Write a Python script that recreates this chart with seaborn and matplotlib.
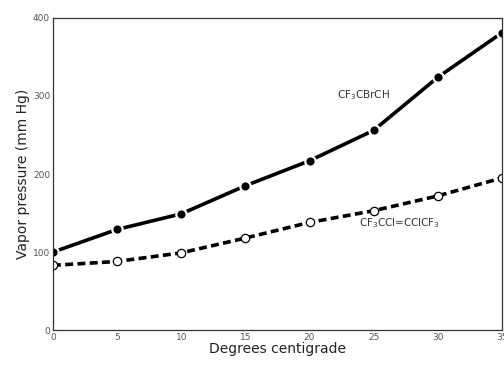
import pandas as pd
import seaborn as sns
import matplotlib.pyplot as plt

# Vapor pressure readings
temps = [0, 5, 10, 15, 20, 25, 30, 35]
cbr_pressure = [100, 129, 149, 185, 217, 256, 324, 381]
ccl_pressure = [83, 88, 99, 118, 138, 153, 172, 195]

x_ticks = [0, 5, 10, 15, 20, 25, 30, 35]
y_ticks = [0, 100, 200, 300, 400]

df_cbr = pd.DataFrame({'Degrees centigrade': temps, 'Vapor pressure (mm Hg)': cbr_pressure})
df_ccl = pd.DataFrame({'Degrees centigrade': temps, 'Vapor pressure (mm Hg)': ccl_pressure})

sns.set_style('white')
plt.rcParams['font.family'] = ['DejaVu Sans']

fig, ax = plt.subplots(figsize=(5.04, 3.66), dpi=100)
fig.subplots_adjust(left=0.105, right=0.996, top=0.951, bottom=0.098)

sns.lineplot(data=df_cbr, x='Degrees centigrade', y='Vapor pressure (mm Hg)', ax=ax,
             color='black', linewidth=2.6, marker='o', markersize=7.5,
             markerfacecolor='black', markeredgecolor='white', markeredgewidth=1.6)
sns.lineplot(data=df_ccl, x='Degrees centigrade', y='Vapor pressure (mm Hg)', ax=ax,
             color='black', linewidth=2.6, linestyle=(0, (2.2, 1.2)), marker='o', markersize=6,
             markerfacecolor='white', markeredgecolor='black', markeredgewidth=0.9)

ax.text(24.2, 301, 'CF$_3$CBrCH', fontsize=7.5, color='#333333', ha='center', va='center')
ax.text(27.0, 137, 'CF$_3$CCl=CClCF$_3$', fontsize=7.5, color='#333333', ha='center', va='center')

ax.set_xlim(0, 35)
ax.set_ylim(0, 400)
ax.set_xticks(x_ticks)
ax.set_yticks(y_ticks)
ax.tick_params(axis='both', labelsize=6.5, colors='#555555', length=3, direction='in', pad=2)
ax.set_xlabel('Degrees centigrade', fontsize=10, color='#222222', labelpad=0)
ax.set_ylabel('Vapor pressure (mm Hg)', fontsize=10, color='#222222', labelpad=2)
for s in ax.spines.values():
    s.set_color('#333333')
    s.set_linewidth(0.9)

fig.savefig('out.png', dpi=100)
